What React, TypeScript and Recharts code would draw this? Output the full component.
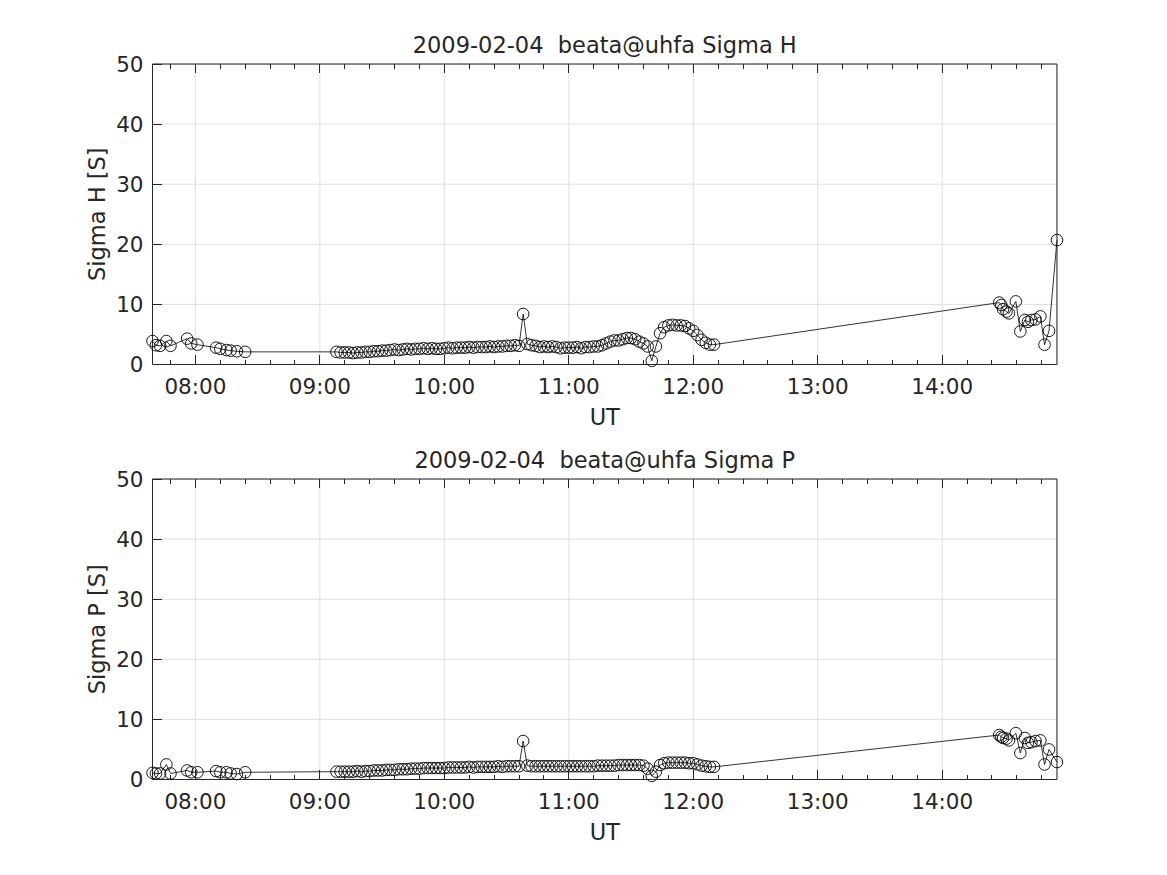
import { LineChart, Line, XAxis, YAxis, CartesianGrid } from 'recharts';

// UT sample times (shared by both panels)
const utTimes = [
  '07:39:20', '07:41', '07:43', '07:46', '07:48', '07:56', '07:58', '08:01', '08:10', '08:12', '08:15', '08:17', '08:20', '08:24',
  '09:08', '09:10', '09:12', '09:14', '09:16', '09:18', '09:20', '09:22', '09:24', '09:26', '09:28', '09:30', '09:32',
  '09:34', '09:36', '09:38', '09:40', '09:42', '09:44', '09:46', '09:48', '09:50', '09:52', '09:54', '09:56', '09:58',
  '10:00', '10:02', '10:04', '10:06', '10:08', '10:10', '10:12', '10:14', '10:16', '10:18', '10:20', '10:22', '10:24', '10:26', '10:28',
  '10:30', '10:32', '10:34', '10:36', '10:38', '10:40', '10:42', '10:44', '10:46', '10:48', '10:50', '10:52', '10:54', '10:56', '10:58',
  '11:00', '11:02', '11:04', '11:06', '11:08', '11:10', '11:12', '11:14', '11:16', '11:18', '11:20', '11:22', '11:24', '11:26', '11:28',
  '11:30', '11:32', '11:34', '11:36', '11:38', '11:40', '11:42', '11:44', '11:46', '11:48', '11:50', '11:52', '11:54', '11:56', '11:58',
  '12:00', '12:02', '12:04', '12:06', '12:08', '12:10',
  '14:27:30', '14:28:30', '14:29:20', '14:31', '14:32:10', '14:35:30', '14:37:40', '14:39:50', '14:41:20', '14:43', '14:45',
  '14:47:20', '14:49:20', '14:51:30', '14:55:20',
];

const sigmaH = [
  3.9, 3.2, 3.1, 3.9, 3.1, 4.3, 3.5, 3.3, 2.8, 2.6, 2.4, 2.3, 2.2, 2.1,
  2.1, 2.0, 2.0, 2.0, 1.9, 2.0, 2.0, 2.1, 2.1, 2.2, 2.2, 2.3, 2.3, 2.4, 2.5, 2.4, 2.5, 2.6, 2.5, 2.6, 2.6, 2.7, 2.6, 2.7, 2.6, 2.6,
  2.7, 2.8, 2.7, 2.8, 2.8, 2.8, 2.9, 2.8, 2.9, 2.9, 2.9, 3.0, 2.9, 3.0, 3.0, 3.1, 3.1, 3.2, 3.1, 8.4, 3.4, 3.2, 3.1, 2.9, 3.0, 2.9, 3.0, 2.9, 2.7, 2.8,
  2.8, 2.8, 2.9, 2.7, 2.9, 2.9, 3.0, 3.0, 3.2, 3.5, 3.8, 4.0, 4.0, 4.2, 4.4, 4.4, 4.2, 3.8, 3.5, 3.0, 0.6, 3.0, 5.2, 6.2, 6.5, 6.6, 6.5, 6.5, 6.4, 6.0,
  5.6, 4.9, 4.1, 3.6, 3.3, 3.3,
  10.3, 9.9, 9.2, 8.8, 8.5, 10.5, 5.5, 7.4, 7.1, 7.4, 7.5, 8.0, 3.3, 5.6, 20.7,
];

const sigmaP = [
  1.1, 1.0, 1.0, 2.5, 1.0, 1.5, 1.2, 1.2, 1.4, 1.2, 1.2, 1.0, 0.9, 1.2,
  1.3, 1.3, 1.3, 1.3, 1.3, 1.4, 1.3, 1.4, 1.4, 1.5, 1.5, 1.5, 1.6, 1.6, 1.6, 1.7, 1.7, 1.7, 1.8, 1.8, 1.8, 1.9, 1.9, 1.9, 1.9, 1.9,
  1.9, 2.0, 2.0, 2.0, 2.0, 2.0, 2.1, 2.0, 2.1, 2.1, 2.1, 2.1, 2.1, 2.2, 2.1, 2.2, 2.2, 2.2, 2.2, 6.4, 2.3, 2.2, 2.2, 2.2, 2.2, 2.2, 2.2, 2.2, 2.2, 2.2,
  2.2, 2.2, 2.2, 2.2, 2.2, 2.2, 2.2, 2.3, 2.3, 2.3, 2.3, 2.3, 2.4, 2.4, 2.4, 2.4, 2.4, 2.4, 2.3, 1.8, 0.6, 1.3, 2.4, 2.7, 2.8, 2.8, 2.8, 2.8, 2.8, 2.7,
  2.7, 2.5, 2.3, 2.2, 2.1, 2.1,
  7.4, 7.1, 6.9, 6.8, 6.5, 7.7, 4.4, 6.9, 6.1, 6.2, 6.4, 6.5, 2.5, 5.0, 2.9,
];

const hourTicks = [8, 9, 10, 11, 12, 13, 14];
const hourLabels = ['08:00', '09:00', '10:00', '11:00', '12:00', '13:00', '14:00'];
const yTicks = [0, 10, 20, 30, 40, 50];

const INK = '#262626';
const GRID = '#dfdfdf';
const FONT = "'DejaVu Sans', sans-serif";
const TICK_FONT = 21.5;

const toHours = (s: string) => {
  const [h, m, sec = '0'] = s.split(':');
  return Number(h) + Number(m) / 60 + Number(sec) / 3600;
};

// minor ticks: 12 min on x, 2 units on y
const minorX = [7.8, ...hourTicks.flatMap((h) => [0.2, 0.4, 0.6, 0.8].map((f) => h + f))];
const minorY = yTicks.slice(0, -1).flatMap((v) => [2, 4, 6, 8].map((f) => v + f));

const W = 1167;
const H = 415;
const margin = { top: 64, right: 110, bottom: 50.5, left: 152.5 };

type Side = 'bottom' | 'top' | 'left' | 'right';

// inward tick marks (matlab style), optionally with a label
const tickMark = (side: Side, len: number, label?: (v: number) => string) => (props: any) => {
  const { payload, index } = props;
  const x = Number(props.x);
  const y = Number(props.y);
  const dx = side === 'left' ? len : side === 'right' ? -len : 0;
  const dy = side === 'bottom' ? -len : side === 'top' ? len : 0;
  return (
    <g key={`${side}-${len}-${index}`}>
      <line x1={x} y1={y} x2={x + dx} y2={y + dy} stroke={INK} strokeWidth={1} shapeRendering="crispEdges" />
      {label && side === 'bottom' && (
        <text x={x} y={y + 30} textAnchor="middle" fontSize={TICK_FONT} fill={INK} fontFamily={FONT}>
          {label(payload.value)}
        </text>
      )}
      {label && side === 'left' && (
        <text x={x - 9} y={y + 7.6} textAnchor="end" fontSize={TICK_FONT} fill={INK} fontFamily={FONT}>
          {label(payload.value)}
        </text>
      )}
    </g>
  );
};

function Panel({ values, top }: { values: number[]; top: number }) {
  const data = utTimes.map((t, i) => ({ t: toHours(t), v: values[i] }));
  const xDomain = [data[0].t, data[data.length - 1].t];
  const fmt = (v: number) => hourLabels[hourTicks.indexOf(v)] ?? '';
  const xCommon = {
    dataKey: 't', type: 'number' as const, domain: xDomain, interval: 0 as const,
    height: 0.01, tickSize: 0, tickMargin: 0, tickLine: false,
  };
  const yCommon = {
    type: 'number' as const, domain: [0, 50], interval: 0 as const,
    width: 0.01, tickSize: 0, tickMargin: 0, tickLine: false,
  };
  const line = { stroke: INK, strokeWidth: 1 };

  return (
    <div style={{ position: 'absolute', left: 0, top, width: W, height: H }}>
      <LineChart width={W} height={H} data={data} margin={margin}>
        <CartesianGrid xAxisId="x" yAxisId="y" stroke={GRID} strokeWidth={1} />
        <XAxis xAxisId="x" {...xCommon} ticks={hourTicks} axisLine={line} tick={tickMark('bottom', 9, fmt)} />
        <XAxis xAxisId="xMinor" {...xCommon} ticks={minorX} axisLine={false} tick={tickMark('bottom', 4.5)} />
        <XAxis xAxisId="xTop" orientation="top" {...xCommon} ticks={hourTicks} axisLine={line}
          tick={tickMark('top', 9)} />
        <XAxis xAxisId="xTopMinor" orientation="top" {...xCommon} ticks={minorX} axisLine={false}
          tick={tickMark('top', 4.5)} />
        <YAxis yAxisId="y" {...yCommon} ticks={yTicks} axisLine={line}
          tick={tickMark('left', 9, (v) => String(v))} />
        <YAxis yAxisId="yMinor" {...yCommon} ticks={minorY} axisLine={false} tick={tickMark('left', 4.5)} />
        <YAxis yAxisId="yRight" orientation="right" {...yCommon} ticks={yTicks} axisLine={line}
          tick={tickMark('right', 9)} />
        <YAxis yAxisId="yRightMinor" orientation="right" {...yCommon} ticks={minorY} axisLine={false}
          tick={tickMark('right', 4.5)} />
        <Line xAxisId="x" yAxisId="y" type="linear" dataKey="v" stroke="#000" strokeWidth={0.8}
          dot={(p: any) => (
            <circle key={`dot-${p.index}`} cx={p.cx} cy={p.cy} r={5.8} stroke="#000" strokeWidth={0.9} fill="none" />
          )}
          activeDot={false} isAnimationActive={false} />
      </LineChart>
    </div>
  );
}

const panels = [
  { title: '2009-02-04  beata@uhfa Sigma H', yLabel: 'Sigma H [S]', values: sigmaH },
  { title: '2009-02-04  beata@uhfa Sigma P', yLabel: 'Sigma P [S]', values: sigmaP },
];

export default function App() {
  const cx = margin.left + (W - margin.left - margin.right) / 2;
  return (
    <div style={{ position: 'absolute', left: 0, top: 0, width: W, height: 875, background: '#fff', fontFamily: FONT }}>
      {panels.map((p, i) => (
        <Panel key={p.title} values={p.values} top={i * H} />
      ))}
      <svg width={W} height={875} style={{ position: 'absolute', left: 0, top: 0, pointerEvents: 'none' }}>
        {panels.map((p, i) => {
          const off = i * H;
          const midY = off + margin.top + (H - margin.top - margin.bottom) / 2;
          return (
            <g key={p.title} fill={INK} fontFamily={FONT} fontSize={22.5}>
              <text x={cx} y={off + 53} textAnchor="middle" style={{ whiteSpace: 'pre' }}>{p.title}</text>
              <text x={cx} y={off + 425} textAnchor="middle">UT</text>
              <text transform={`translate(105, ${midY}) rotate(-90)`} textAnchor="middle">{p.yLabel}</text>
            </g>
          );
        })}
      </svg>
    </div>
  );
}
